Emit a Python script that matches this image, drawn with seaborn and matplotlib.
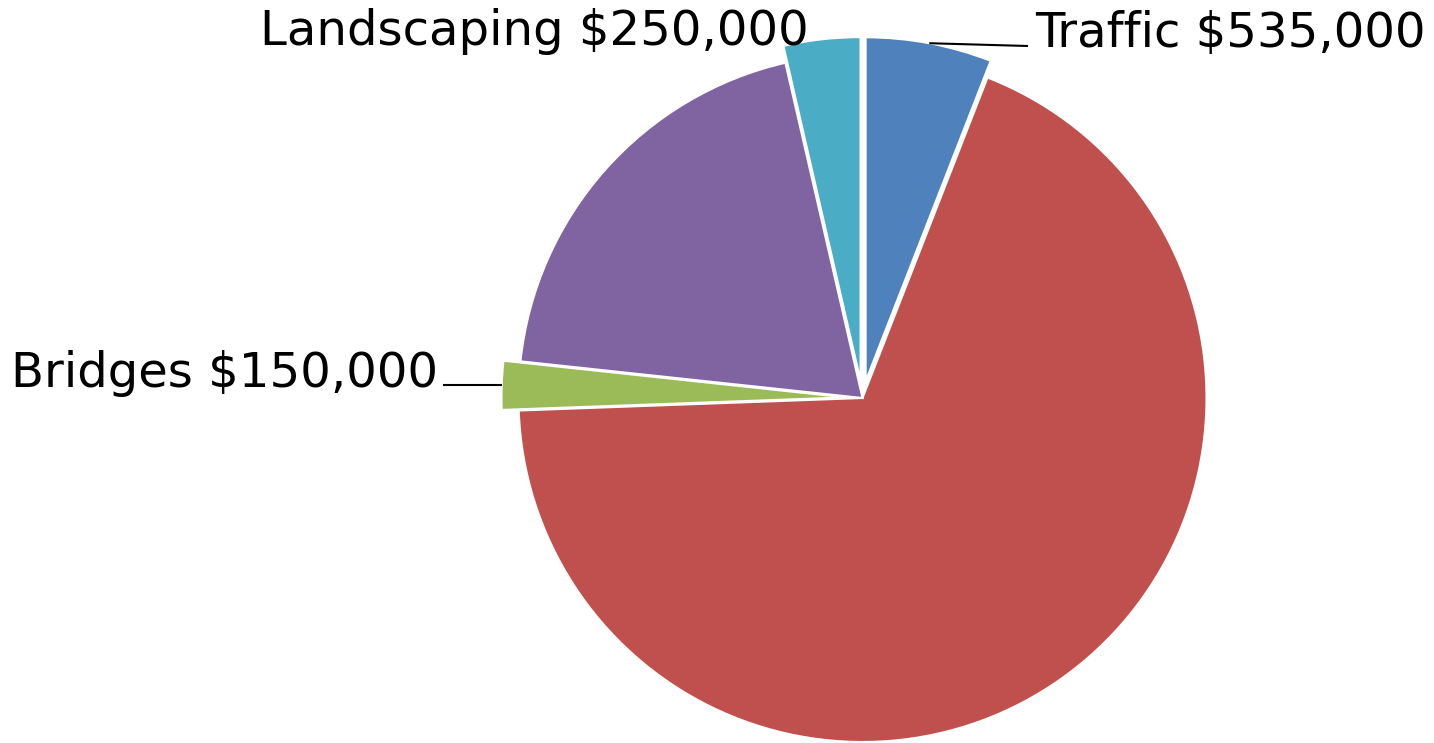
import numpy as np
import matplotlib
matplotlib.use("Agg")
import matplotlib.pyplot as plt
import seaborn as sns

# ---- data (shares, clockwise from 12 o'clock) ----
categories = ["Traffic", "Other (red)", "Bridges", "Other (purple)", "Landscaping"]
shares = [5.92, 68.50, 2.28, 19.70, 3.60]
label_texts = ["Traffic $535,000", "", "Bridges $150,000", "", "Landscaping $250,000"]
palette = ["#4F81BD", "#C0504D", "#9BBB59", "#8064A2", "#4BACC6"]
exploded = [True, False, True, False, True]

sns.set_theme(style="white")
plt.rcParams["font.family"] = ["DejaVu Sans"]

W, H = 1434, 743
fig = plt.figure(figsize=(W / 100, H / 100), dpi=100)
ax = fig.add_axes([0, 0, 1, 1])

R = 344
cx, cy = 862.5, H - 398
wedges, _ = ax.pie(
    shares,
    colors=sns.color_palette(palette),
    startangle=90,
    counterclock=False,
    radius=R,
    center=(cx, cy),
    explode=[17 if e else 0 for e in exploded],
    wedgeprops=dict(edgecolor="white", linewidth=1.5),
)
ax.set_xlim(0, W)
ax.set_ylim(0, H)
ax.set_aspect("equal")
ax.axis("off")

def arc_mid(w):
    tm = np.deg2rad((w.theta1 + w.theta2) / 2)
    return w.center[0] + w.r * np.cos(tm), w.center[1] + w.r * np.sin(tm)

fs = 34.7
# Traffic label
tx, ty = 1035, H - 47
ax.text(tx, ty, label_texts[0], fontsize=fs, ha="left", va="baseline", color="black")
px, py = arc_mid(wedges[0])
ax.plot([px, tx - 7], [py, ty + 1], color="black", lw=1.5, solid_capstyle="butt")

# Bridges label
bx, by = 11, H - 387
ax.text(bx, by, label_texts[2], fontsize=fs, ha="left", va="baseline", color="black")
px, py = arc_mid(wedges[2])
ax.plot([443, px], [py, py], color="black", lw=1.5, solid_capstyle="butt")

# Landscaping label
ax.text(809, H - 45, label_texts[4], fontsize=fs, ha="right", va="baseline", color="black")

fig.savefig("out.png", dpi=100, facecolor="white")
